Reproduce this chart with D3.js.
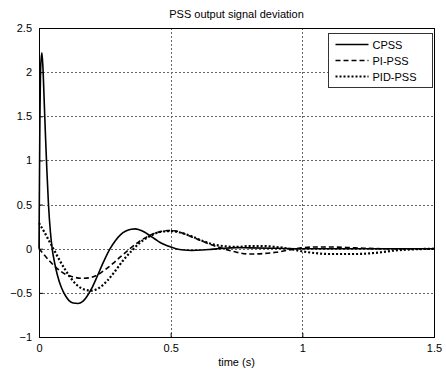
<!DOCTYPE html>
<html>
<head>
<meta charset="utf-8">
<script src="https://cdn.jsdelivr.net/npm/d3@7"></script>
<style>
  body { margin: 0; background: #fff; }
  text { font-family: "Liberation Sans", Arial, sans-serif; }
</style>
</head>
<body>
<div id="chart"></div>
<script>
// data
var seriesNames = ["CPSS", "PI-PSS", "PID-PSS"];

var cpssT = [0, 0.003, 0.007, 0.011, 0.015, 0.02, 0.025, 0.03, 0.036, 0.043, 0.05, 0.06, 0.07, 0.085, 0.1, 0.115, 0.13, 0.148, 0.165, 0.18, 0.2, 0.22, 0.245, 0.27, 0.29, 0.31, 0.33, 0.35, 0.365, 0.38, 0.4, 0.42, 0.44, 0.46, 0.49, 0.52, 0.55, 0.58, 0.62, 0.66, 0.7, 0.75, 0.8, 0.9, 1.0, 1.1, 1.2, 1.3, 1.4, 1.5];
var cpssV = [0, 1.3, 2.1, 2.22, 2.05, 1.65, 1.25, 0.88, 0.5, 0.2, 0.0, -0.17, -0.3, -0.44, -0.53, -0.59, -0.615, -0.62, -0.6, -0.55, -0.45, -0.32, -0.15, 0.0, 0.09, 0.16, 0.2, 0.22, 0.225, 0.215, 0.19, 0.15, 0.11, 0.07, 0.03, 0.0, -0.015, -0.02, -0.015, -0.005, 0.005, 0.012, 0.01, 0.005, 0.0, 0.0, 0.0, 0.0, 0.0, 0.0];

var piT = [0, 0.02, 0.04, 0.06, 0.08, 0.1, 0.13, 0.16, 0.19, 0.22, 0.25, 0.28, 0.31, 0.345, 0.38, 0.42, 0.45, 0.49, 0.52, 0.55, 0.6, 0.65, 0.7, 0.75, 0.8, 0.85, 0.9, 0.95, 1.0, 1.05, 1.1, 1.2, 1.3, 1.4, 1.5];
var piV = [0, -0.07, -0.14, -0.2, -0.25, -0.29, -0.32, -0.335, -0.33, -0.3, -0.24, -0.17, -0.09, 0.0, 0.08, 0.15, 0.185, 0.205, 0.2, 0.17, 0.11, 0.05, 0.0, -0.04, -0.06, -0.055, -0.04, -0.015, 0.01, 0.02, 0.02, 0.01, 0.0, 0.0, 0.0];

var pidT = [0, 0.02, 0.04, 0.06, 0.08, 0.1, 0.12, 0.14, 0.17, 0.2, 0.23, 0.26, 0.29, 0.32, 0.35, 0.38, 0.42, 0.46, 0.5, 0.54, 0.58, 0.62, 0.66, 0.7, 0.75, 0.8, 0.85, 0.9, 0.95, 1.0, 1.05, 1.1, 1.2, 1.3, 1.35, 1.4, 1.5];
var pidV = [0.29, 0.19, 0.08, -0.03, -0.14, -0.24, -0.33, -0.4, -0.46, -0.475, -0.44, -0.36, -0.25, -0.13, -0.03, 0.06, 0.14, 0.19, 0.2, 0.18, 0.14, 0.09, 0.05, 0.03, 0.02, 0.03, 0.03, 0.02, 0.0, -0.03, -0.05, -0.06, -0.06, -0.04, -0.02, -0.01, 0.0];

var xTicks = [0, 0.5, 1, 1.5];
var yTicks = [-1, -0.5, 0, 0.5, 1, 1.5, 2, 2.5];

var svgWidth = 446;
var svgHeight = 370;
var margin = { top: 28, right: 12, bottom: 33, left: 39 };
var width = svgWidth - margin.left - margin.right;
var height = svgHeight - margin.top - margin.bottom;

var svg = d3.select("#chart")
  .append("svg")
  .attr("width", svgWidth)
  .attr("height", svgHeight);

svg.append("rect")
  .attr("width", svgWidth)
  .attr("height", svgHeight)
  .attr("fill", "#fff");

var g = svg.append("g")
  .attr("transform", `translate(${margin.left}, ${margin.top})`);

var x = d3.scaleLinear().domain([0, 1.5]).range([0, width]);
var y = d3.scaleLinear().domain([-1, 2.5]).range([height, 0]);

// grid
g.selectAll(".gx")
  .data(xTicks.slice(1, -1))
  .enter()
  .append("line")
  .attr("x1", d => Math.round(x(d)) + 0.5)
  .attr("x2", d => Math.round(x(d)) + 0.5)
  .attr("y1", 0)
  .attr("y2", height)
  .attr("stroke", "#666")
  .attr("stroke-dasharray", "2,2");

g.selectAll(".gy")
  .data(yTicks.slice(1, -1))
  .enter()
  .append("line")
  .attr("x1", 0)
  .attr("x2", width)
  .attr("y1", d => Math.round(y(d)) + 0.5)
  .attr("y2", d => Math.round(y(d)) + 0.5)
  .attr("stroke", "#666")
  .attr("stroke-dasharray", "2,2");

// axes
var bottomAxis = d3.axisBottom(x).tickValues(xTicks).tickSize(-4).tickPadding(7).tickFormat(d3.format("~g"));
var leftAxis = d3.axisLeft(y).tickValues(yTicks).tickSize(-4).tickPadding(7).tickFormat(d3.format("~g"));

var gx = g.append("g")
  .attr("transform", `translate(0, ${height})`)
  .call(bottomAxis);
var gy = g.append("g").call(leftAxis);

[gx, gy].forEach(function (a) {
  a.select(".domain").remove();
  a.selectAll("line").attr("stroke", "#000");
  a.selectAll("text").attr("fill", "#000").style("font-size", "11px");
});

// box
g.append("rect")
  .attr("x", 0.5)
  .attr("y", 0.5)
  .attr("width", width)
  .attr("height", height)
  .attr("fill", "none")
  .attr("stroke", "#000");

// curves
var line = d3.line()
  .x(d => x(d[0]))
  .y(d => y(d[1]))
  .curve(d3.curveMonotoneX);

var dashes = ["none", "5,3", "2,2"];
var curves = [
  d3.zip(cpssT, cpssV),
  d3.zip(piT, piV),
  d3.zip(pidT, pidV)
];

g.selectAll(".curve")
  .data(curves)
  .enter()
  .append("path")
  .attr("class", "curve")
  .attr("d", line)
  .attr("fill", "none")
  .attr("stroke", "#000")
  .attr("stroke-width", (d, i) => i == 2 ? 2.2 : 1.6)
  .attr("stroke-dasharray", (d, i) => dashes[i]);

// legend
var legend = svg.append("g")
  .attr("transform", "translate(328.5, 33.5)");

legend.append("rect")
  .attr("width", 104)
  .attr("height", 54)
  .attr("fill", "#fff")
  .attr("stroke", "#333");

seriesNames.forEach(function (name, i) {
  var ly = 11 + i * 16;
  legend.append("line")
    .attr("x1", 7)
    .attr("x2", 40)
    .attr("y1", ly)
    .attr("y2", ly)
    .attr("stroke", "#000")
    .attr("stroke-width", i == 2 ? 2.2 : 1.6)
    .attr("stroke-dasharray", dashes[i]);
  legend.append("text")
    .attr("x", 44)
    .attr("y", ly + 4)
    .style("font-size", "11px")
    .text(name);
});

// titles
svg.append("text")
  .attr("x", margin.left + width / 2)
  .attr("y", 18)
  .attr("text-anchor", "middle")
  .style("font-size", "11px")
  .text("PSS output signal deviation");

svg.append("text")
  .attr("x", margin.left + width / 2)
  .attr("y", 366)
  .attr("text-anchor", "middle")
  .style("font-size", "11px")
  .text("time (s)");
</script>
</body>
</html>
